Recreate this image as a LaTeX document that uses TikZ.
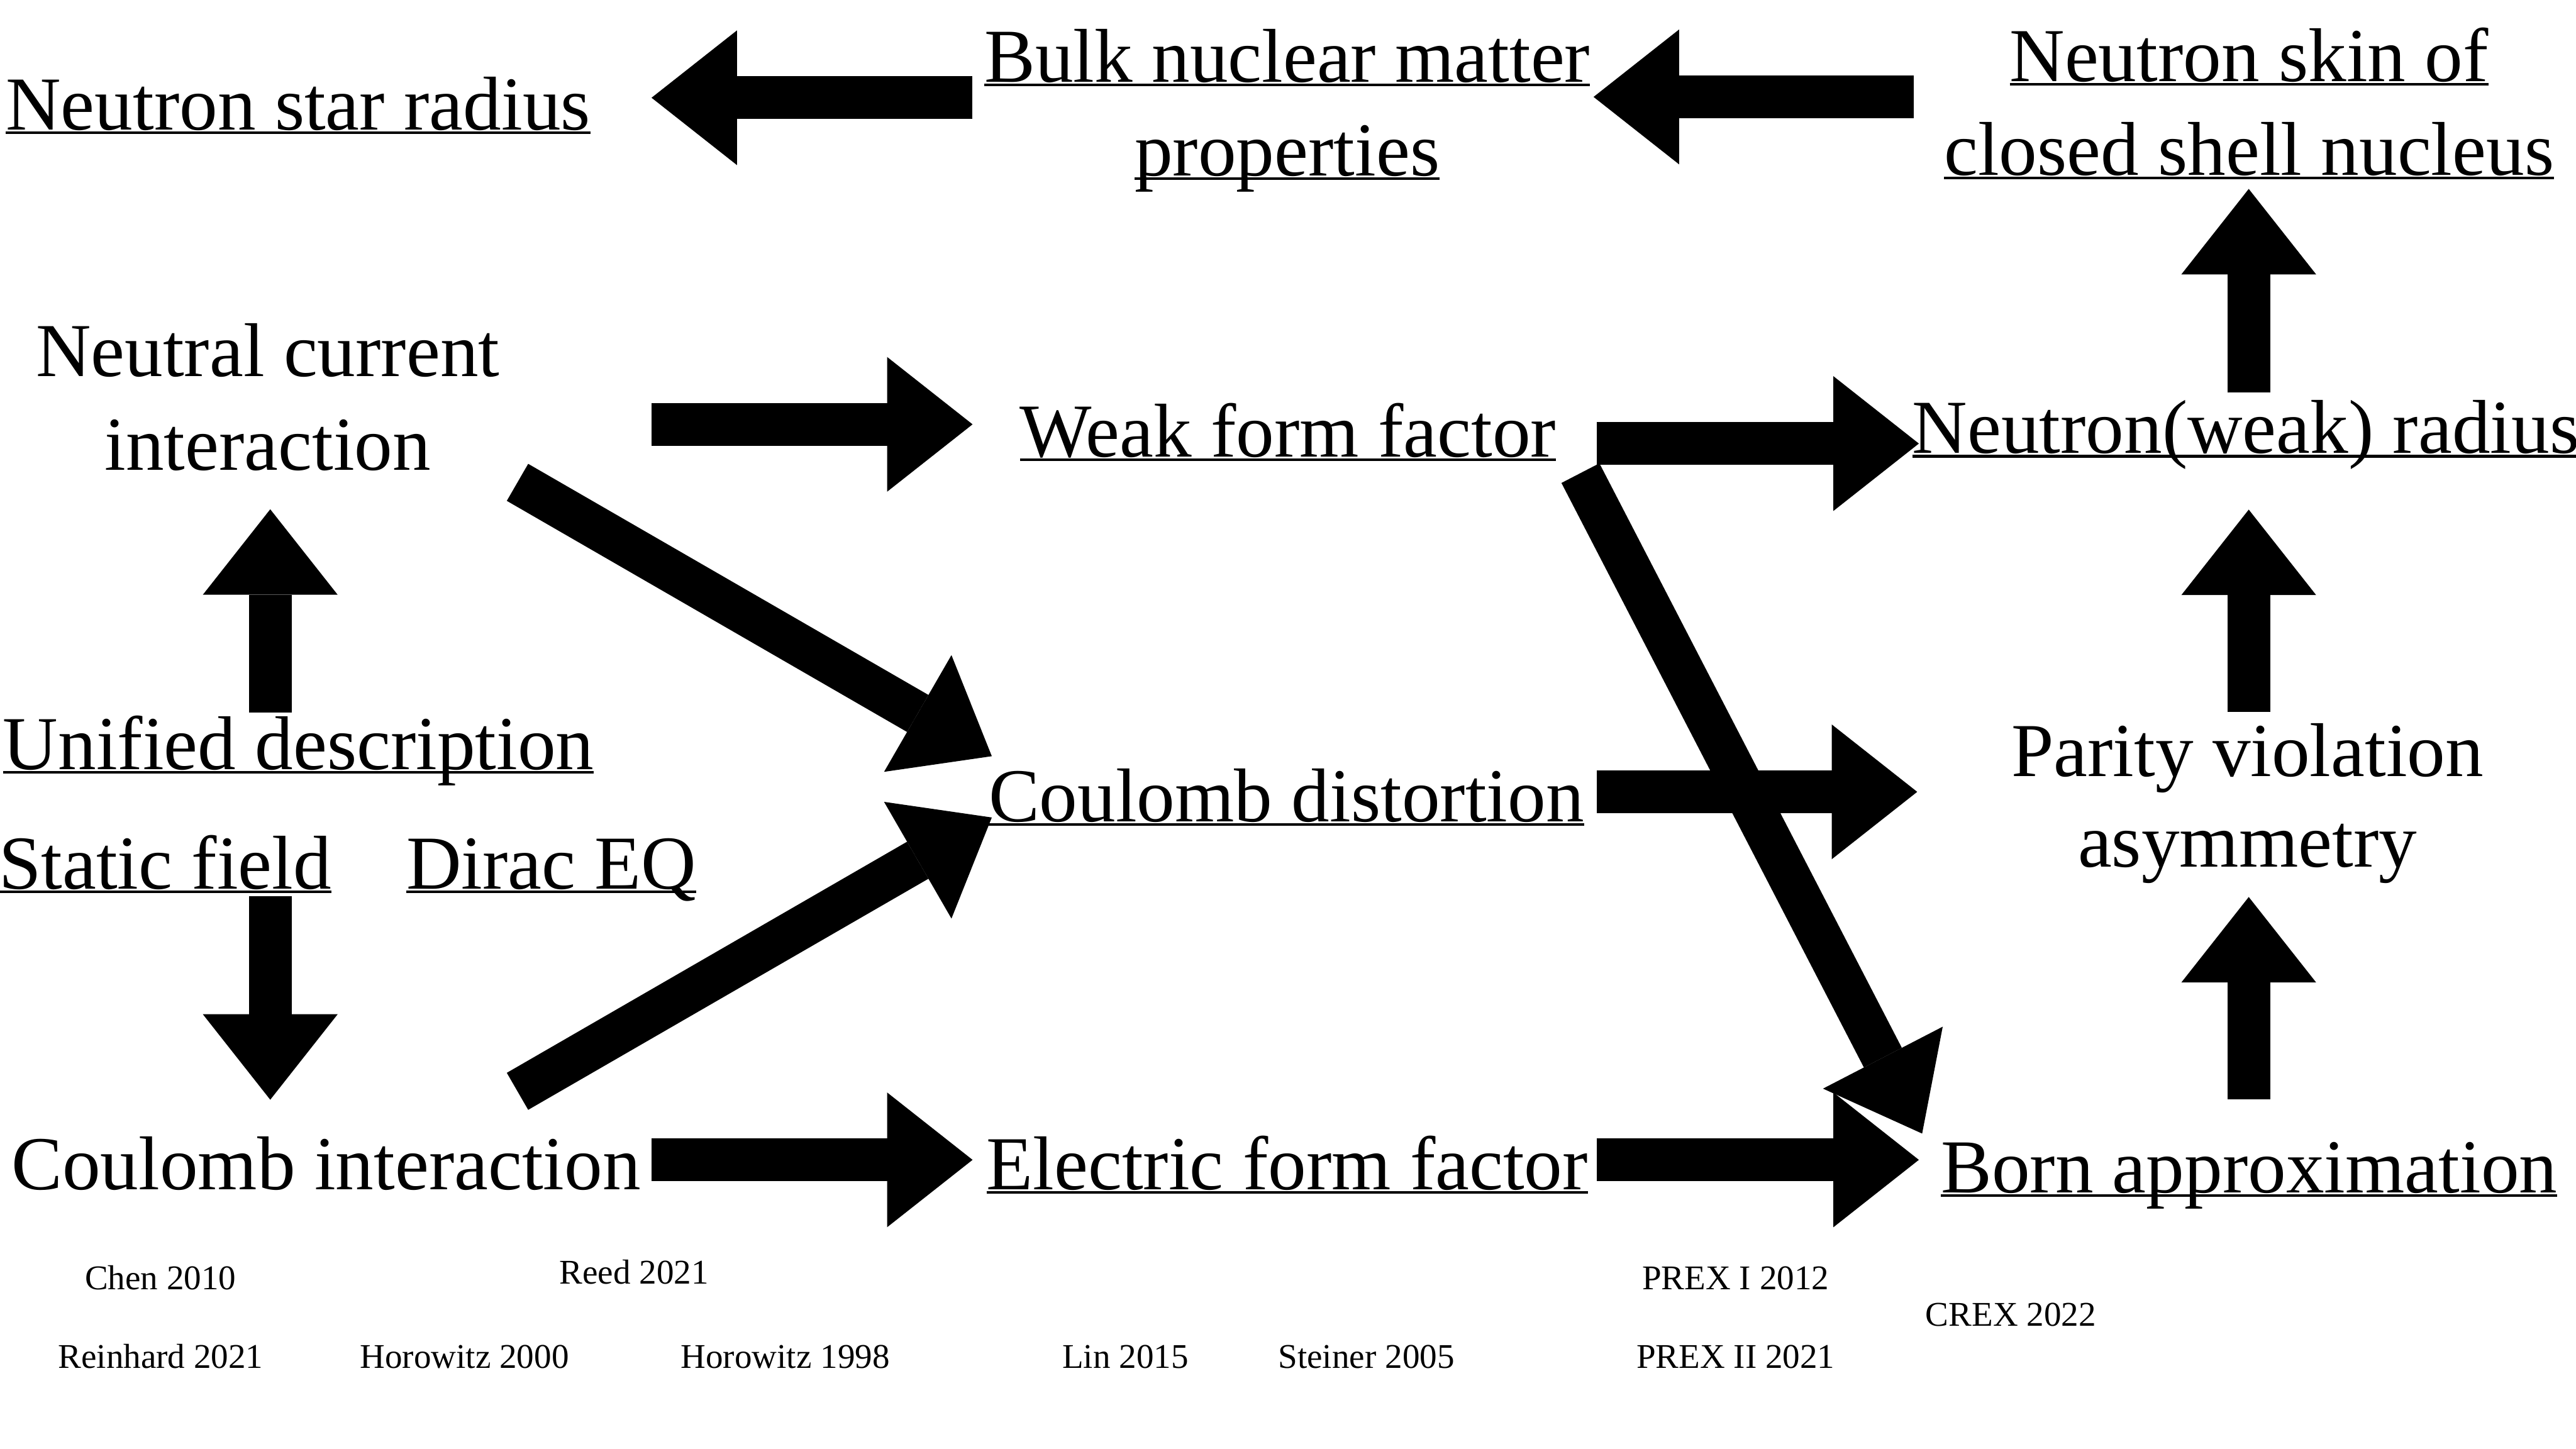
\documentclass[tikz,border=0pt]{standalone}
\usepackage{fontspec}
\setmainfont{Liberation Serif}
\usetikzlibrary{arrows.meta}
\newcommand\ulin[1]{\setbox0\hbox{#1}\rlap{\rule[-0.055em]{\wd0}{0.035em}}\box0}
\newcommand\twolines[3]{\begin{tabular}[t]{@{}c@{}}#1\\[#3]#2\end{tabular}}
\begin{document}
\begin{tikzpicture}[x=0.01cm,y=-0.01cm,
  lbl/.style={inner sep=0pt, outer sep=0pt, anchor=base, font=\fontsize{13.2pt}{16.2pt}\selectfont},
  cite/.style={inner sep=0pt, outer sep=0pt, anchor=base, font=\fontsize{6pt}{7pt}\selectfont},
  barrow/.style={line width=0.26cm, draw=black, -{Triangle[width=0.82cm,length=0.52cm,line width=0pt]}}
]
\useasboundingbox[fill=white] (0,0) rectangle (1568,882);

% main labels
\node[lbl] (nsr) at (181.5,79) {\ulin{Neutron star radius}};
\node[lbl] (bulk) at (783.5,50) {\twolines{\ulin{Bulk nuclear matter}}{\ulin{properties}}{0pt}};
\node[lbl] (skin) at (1369,49.6) {\twolines{\ulin{Neutron skin of}}{\ulin{closed shell nucleus}}{0pt}};
\node[lbl] (neutral) at (163,229) {\twolines{Neutral current}{interaction}{0pt}};
\node[lbl] (weak) at (784,278) {\ulin{Weak form factor}};
\node[lbl] (nwr) at (1367,276) {\ulin{Neutron(weak) radius}};
\node[lbl] (unified) at (181.7,468.3) {\ulin{Unified description}};
\node[lbl] (static) at (100.5,541) {\ulin{Static field}};
\node[lbl] (dirac) at (335.6,541) {\ulin{Dirac EQ}};
\node[lbl] (cdist) at (783,500) {\ulin{Coulomb distortion}};
\node[lbl] (parity) at (1368,472.4) {\twolines{Parity violation}{asymmetry}{-0.5pt}};
\node[lbl] (cint) at (198.5,724) {Coulomb interaction};
\node[lbl] (eff) at (783.5,724) {\ulin{Electric form factor}};
\node[lbl] (born) at (1369,726) {\ulin{Born approximation}};

% citations
\node[cite] (chen) at (97.7,785) {Chen 2010};
\node[cite] (reed) at (386,781.5) {Reed 2021};
\node[cite] (reinhard) at (97.8,833) {Reinhard 2021};
\node[cite] (horoA) at (282.7,833) {Horowitz 2000};
\node[cite] (horoB) at (478,833) {Horowitz 1998};
\node[cite] (lin) at (685,833) {Lin 2015};
\node[cite] (steiner) at (831.7,833) {Steiner 2005};
\node[cite] (prexA) at (1056.5,785) {PREX I 2012};
\node[cite] (crex) at (1224,807) {CREX 2022};
\node[cite] (prexB) at (1056.5,833) {PREX II 2021};

% arrow end points
\coordinate (a1s) at (592,59.5);     \coordinate (a1e) at (396.6,59.5);
\coordinate (a2s) at (1165,59);      \coordinate (a2e) at (970,59);
\coordinate (a3s) at (1368.8,239);   \coordinate (a3e) at (1368.8,115);
\coordinate (a4s) at (396.5,258.3);  \coordinate (a4e) at (592,258.3);
\coordinate (a5s) at (972,270);      \coordinate (a5e) at (1168,270);
\coordinate (a6s) at (962,288);      \coordinate (a6e) at (1170,690);
\coordinate (a7s) at (972,482);      \coordinate (a7e) at (1167,482);
\coordinate (a8s) at (972,706);      \coordinate (a8e) at (1168,706);
\coordinate (a9s) at (1368.8,669);   \coordinate (a9e) at (1368.8,546);
\coordinate (a10s) at (1368.8,433.4);\coordinate (a10e) at (1368.8,310.2);
\coordinate (a11s) at (164.5,433.7); \coordinate (a11e) at (164.5,310);
\coordinate (a12s) at (164.5,545.7); \coordinate (a12e) at (164.5,669.4);
\coordinate (a13s) at (315,293.6);   \coordinate (a13e) at (603.7,460.3);
\coordinate (a14s) at (315,664.3);   \coordinate (a14e) at (603.7,497.6);
\coordinate (a15s) at (396.5,706);   \coordinate (a15e) at (592,706);

\draw[barrow] (a1s) -- (a1e);
\draw[barrow] (a2s) -- (a2e);
\draw[barrow] (a3s) -- (a3e);
\draw[barrow] (a4s) -- (a4e);
\draw[barrow] (a5s) -- (a5e);
\draw[barrow] (a7s) -- (a7e);
\draw[barrow] (a8s) -- (a8e);
\draw[barrow] (a6s) -- (a6e);
\draw[barrow] (a9s) -- (a9e);
\draw[barrow] (a10s) -- (a10e);
\draw[barrow] (a11s) -- (a11e);
\draw[barrow] (a12s) -- (a12e);
\draw[barrow] (a13s) -- (a13e);
\draw[barrow] (a14s) -- (a14e);
\draw[barrow] (a15s) -- (a15e);
\end{tikzpicture}
\end{document}
